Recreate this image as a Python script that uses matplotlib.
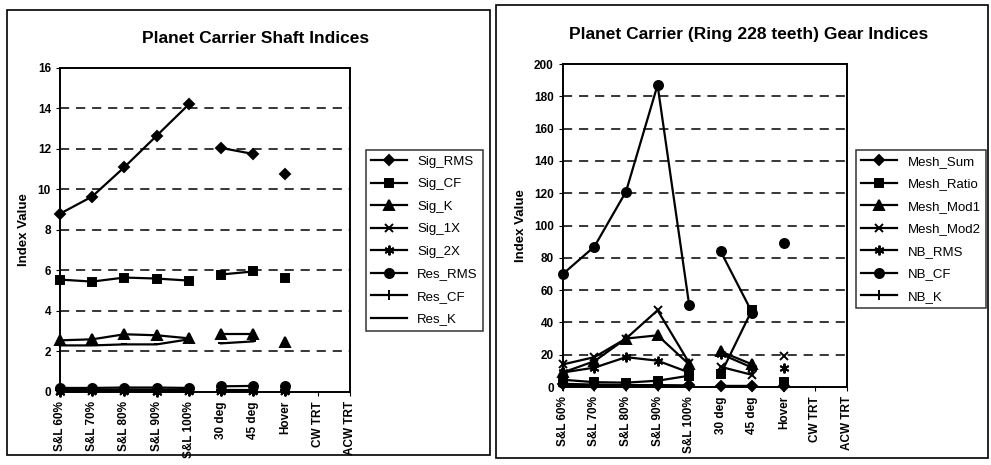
import numpy as np
import matplotlib
matplotlib.use("Agg")
from matplotlib import pyplot as plt
from matplotlib.patches import Rectangle

plt.rcParams['font.family'] = ['Liberation Sans', 'DejaVu Sans']

nan = np.nan
cats = ['S&L 60%', 'S&L 70%', 'S&L 80%', 'S&L 90%', 'S&L 100%',
        '30 deg', '45 deg', 'Hover', 'CW TRT', 'ACW TRT']

# shaft indices (left)
sig_rms = [8.8, 9.65, 11.1, 12.65, 14.2, 12.05, 11.75, 10.75, nan, nan]
sig_cf = [5.55, 5.45, 5.65, 5.6, 5.5, 5.8, 5.95, 5.65, nan, nan]
sig_k = [2.55, 2.6, 2.85, 2.8, 2.65, 2.85, 2.85, 2.45, nan, nan]
sig_1x = [0.05, 0.06, 0.05, 0.05, 0.06, 0.07, 0.07, 0.06, nan, nan]
sig_2x = [0.02, 0.03, 0.03, 0.02, 0.03, 0.04, 0.04, 0.03, nan, nan]
res_rms = [0.2, 0.2, 0.22, 0.22, 0.2, 0.28, 0.3, 0.3, nan, nan]
res_cf = [0.1, 0.1, 0.12, 0.12, 0.1, 0.12, 0.12, 0.1, nan, nan]
res_k = [2.3, 2.3, 2.35, 2.35, 2.6, 2.4, 2.5, 2.45, nan, nan]

# gear indices (right)
mesh_sum = [2.0, 1.5, 1.2, 1.2, 1.0, 0.8, 0.8, 0.5, nan, nan]
mesh_ratio = [4.5, 3.0, 2.7, 3.9, 7.0, 8.0, 48.0, 3.0, nan, nan]
mesh_mod1 = [9.0, 16.0, 30.0, 32.0, 14.0, 22.0, 14.0, nan, nan, nan]
mesh_mod2 = [14.0, 18.5, 30.0, 47.5, 15.0, 12.5, 7.5, 19.5, nan, nan]
nb_rms = [9.0, 12.0, 18.5, 16.3, 9.0, 20.5, 12.0, 12.0, nan, nan]
nb_cf = [70.0, 87.0, 121.0, 187.0, 51.0, 84.0, 46.0, 89.0, nan, nan]
nb_k = [0.5, 0.5, 0.5, 0.5, 0.5, 0.5, 0.5, 0.3, nan, nan]

# flight regimes are drawn as separate line segments
groups = [(0, 5), (5, 7), (7, 8)]

STAR = (6, 2, 0)


def draw(ax, series, ymax, ystep):
    x = np.arange(len(cats))
    for name, vals, mk, ms in series:
        vals = np.array(vals, dtype=float)
        for j, (a, b) in enumerate(groups):
            ax.plot(x[a:b], vals[a:b], color='black', lw=1.6, marker=mk,
                    markersize=ms, markeredgewidth=1.4,
                    label=name if j == 0 else None, clip_on=False)
    ax.set_xlim(0, len(cats) - 1)
    ax.set_ylim(0, ymax)
    ax.set_xticks(x)
    ax.set_xticklabels(cats, rotation=90, fontsize=8.5, fontweight='bold')
    ax.set_yticks(np.arange(0, ymax + 1, ystep))
    ax.tick_params(axis='y', labelsize=8.5, length=3)
    ax.tick_params(axis='x', length=3)
    for lbl in ax.get_yticklabels():
        lbl.set_fontweight('bold')
    for yv in np.arange(ystep, ymax, ystep):
        ax.axhline(yv, color='black', lw=1.1, ls=(0, (6, 4.5)), zorder=0)
    for sp in ax.spines.values():
        sp.set_linewidth(1.4)
    ax.set_ylabel('Index Value', fontsize=9.5, fontweight='bold')


def add_legend(ax, x0):
    leg = ax.legend(loc='upper left', bbox_to_anchor=(x0, 0.677),
                    bbox_transform=fig.transFigure, fontsize=9.5, frameon=True,
                    fancybox=False, edgecolor='black', handlelength=2.7,
                    labelspacing=0.78, borderpad=0.4, borderaxespad=0)
    leg.get_frame().set_linewidth(1.1)
    return leg


fig = plt.figure(figsize=(9.91, 4.65), dpi=100)

# panel frames
fig.patches.append(Rectangle((0.007, 0.021), 0.487, 0.957, transform=fig.transFigure,
                             fill=False, lw=1.2, ec='black'))
fig.patches.append(Rectangle((0.5005, 0.014), 0.4965, 0.976, transform=fig.transFigure,
                             fill=False, lw=1.2, ec='black'))

ax1 = fig.add_axes([0.0605, 0.157, 0.2926, 0.697])
left_series = [('Sig_RMS', sig_rms, 'D', 5.5), ('Sig_CF', sig_cf, 's', 6),
               ('Sig_K', sig_k, '^', 6.5), ('Sig_1X', sig_1x, 'x', 5.5),
               ('Sig_2X', sig_2x, STAR, 7), ('Res_RMS', res_rms, 'o', 6.5),
               ('Res_CF', res_cf, '+', 7), ('Res_K', res_k, '_', 5)]
draw(ax1, left_series, 16, 2)
ax1.yaxis.set_label_coords(-0.105, 0.5)
fig.text(0.258, 0.918, 'Planet Carrier Shaft Indices', ha='center', va='center',
         fontsize=12.5, fontweight='bold')
add_legend(ax1, 0.369)

ax2 = fig.add_axes([0.568, 0.1677, 0.2866, 0.6946])
right_series = [('Mesh_Sum', mesh_sum, 'D', 5.5), ('Mesh_Ratio', mesh_ratio, 's', 6),
                ('Mesh_Mod1', mesh_mod1, '^', 6.5), ('Mesh_Mod2', mesh_mod2, 'x', 5.5),
                ('NB_RMS', nb_rms, STAR, 7), ('NB_CF', nb_cf, 'o', 6.5),
                ('NB_K', nb_k, '+', 7)]
draw(ax2, right_series, 200, 20)
ax2.yaxis.set_label_coords(-0.125, 0.5)
fig.text(0.755, 0.925, 'Planet Carrier (Ring 228 teeth) Gear Indices', ha='center',
         va='center', fontsize=12.5, fontweight='bold')
add_legend(ax2, 0.8638)

fig.savefig('out.png', dpi=100)
